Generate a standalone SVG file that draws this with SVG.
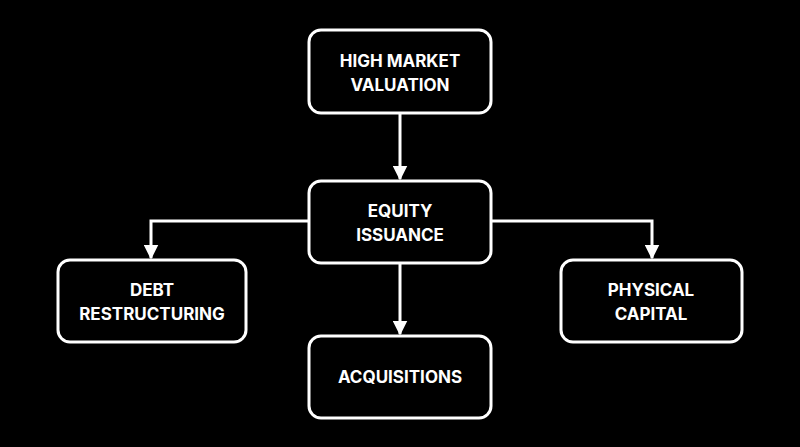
<svg xmlns="http://www.w3.org/2000/svg" width="800" height="447" viewBox="0 0 800 447">
<style>
.n rect{fill:#000;stroke:#fff;stroke-width:3}
.n text{fill:#fff;font-family:Inter,"Liberation Sans",sans-serif;font-weight:700;font-size:17px;text-anchor:middle}
.c path{fill:none;stroke:#fff;stroke-width:3}
</style>
<defs><marker id="a" viewBox="0 0 10 10" refX="9" refY="5" markerWidth="5" markerHeight="5" orient="auto" markerUnits="strokeWidth"><path d="M0,0 L10,5 L0,10 z" fill="#fff"/></marker></defs>
<rect width="800" height="447" fill="#000"/>
<g class="c">
<path d="M400,113 V179" marker-end="url(#a)"/>
<path d="M309,221 H151 V258" marker-end="url(#a)"/>
<path d="M491,221 H652 V258" marker-end="url(#a)"/>
<path d="M400,263 V334" marker-end="url(#a)"/>
</g>
<g id="high" class="n"><rect x="309" y="30" width="182" height="83" rx="12"/><text x="400" y="67">HIGH MARKET</text><text x="400" y="91">VALUATION</text></g>
<g id="equity" class="n"><rect x="309" y="181" width="182" height="82" rx="12"/><text x="400" y="217">EQUITY</text><text x="400" y="241">ISSUANCE</text></g>
<g id="debt" class="n"><rect x="58" y="260" width="188" height="82" rx="12"/><text x="152" y="296">DEBT</text><text x="152" y="320">RESTRUCTURING</text></g>
<g id="physical" class="n"><rect x="561" y="260" width="181" height="82" rx="12"/><text x="651" y="296">PHYSICAL</text><text x="651" y="320">CAPITAL</text></g>
<g id="acq" class="n"><rect x="309" y="336" width="182" height="82" rx="12"/><text x="400" y="383">ACQUISITIONS</text></g>
</svg>
